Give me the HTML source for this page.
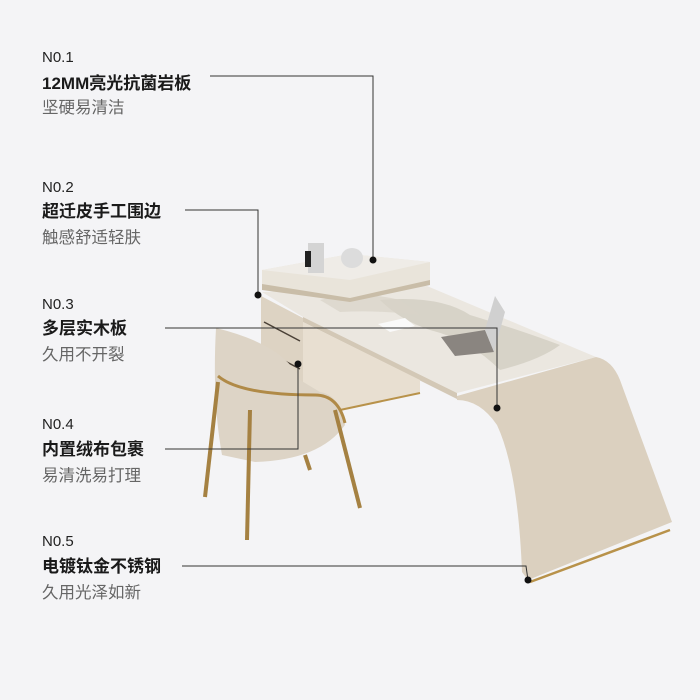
<!DOCTYPE html>
<html><head><meta charset="utf-8"><style>
html,body{margin:0;padding:0;background:#f4f4f6;}
svg{display:block}
.n{font-family:"Liberation Sans","Noto Sans CJK SC",sans-serif;font-size:15px;fill:#222}
.b{font-family:"Liberation Sans","Noto Sans CJK SC",sans-serif;font-size:17px;font-weight:bold;fill:#1a1a1a}
.g{font-family:"Liberation Sans","Noto Sans CJK SC",sans-serif;font-size:16.5px;fill:#666}
</style></head><body>
<svg width="700" height="700" viewBox="0 0 700 700" xmlns="http://www.w3.org/2000/svg">
<rect width="700" height="700" fill="#f4f4f6"/>
<!-- cabinet front -->
<polygon points="261,296 303,318 303,404 261,380" fill="#ddd3c3"/>
<line x1="264" y1="322" x2="300" y2="341" stroke="#4a4036" stroke-width="1.5"/>
<line x1="264" y1="350" x2="300" y2="369" stroke="#4a4036" stroke-width="1.5"/>
<!-- tabletop -->
<polygon points="262,292 427,286 596,357 457,393 303,317" fill="#ebe7e0"/>
<path d="M380,300 Q440,295 470,315 Q520,330 560,345 Q540,360 500,370 Q470,340 430,330 Q400,320 380,300Z" fill="#cfcabe" opacity="0.7"/>
<path d="M320,300 Q360,290 400,300 L420,315 Q380,310 340,312Z" fill="#d8d3c8" opacity="0.7"/>
<polygon points="303,317 457,393 457,399 303,322" fill="#d3c8b6"/>
<!-- cabinet side -->
<polygon points="303,322 420,380 420,393 340,410 303,404" fill="#e8dfd1"/>
<line x1="340" y1="410" x2="420" y2="393" stroke="#b8924a" stroke-width="2"/>
<!-- curved leg -->
<path d="M457,396 L596,357 Q612,360 620,380 L672,522 L528,580 L522,572 Q518,470 497,425 Q480,400 457,400 Z" fill="#dbd0bf"/>
<line x1="530" y1="582" x2="670" y2="530" stroke="#b8924a" stroke-width="2.5"/>
<!-- tray -->
<polygon points="262,270 350,254 430,262 430,282 350,300 262,286" fill="#e9e4da"/>
<polygon points="262,270 350,254 430,262 350,280" fill="#efece7"/>
<polygon points="262,284 350,298 430,280 430,285 350,302 262,290" fill="#c9bda8"/>
<rect x="308" y="243" width="16" height="30" fill="#d4d4d4"/><rect x="305" y="251" width="6" height="16" fill="#222"/>
<ellipse cx="352" cy="258" rx="11" ry="10" fill="#dcdcdc"/>
<!-- laptop & papers -->
<polygon points="441,337 485,330 494,352 455,356" fill="#8a8580"/>
<polygon points="485,330 495,296 505,312 494,352" fill="#d0d0d0"/>
<polygon points="378,324 405,318 415,326 390,332" fill="#fafafa"/>
<!-- chair -->
<path d="M216,328 Q285,345 300,380 L320,392 Q340,395 345,425 Q320,460 255,462 L222,455 Q212,400 216,328Z" fill="#ddd4c6"/>
<path d="M218,376 Q240,395 315,395 Q338,395 345,423" fill="none" stroke="#b08a47" stroke-width="3"/>
<g stroke="#a58142" stroke-width="4" fill="none">
<line x1="218" y1="382" x2="205" y2="497"/>
<line x1="250" y1="410" x2="247" y2="540"/>
<line x1="335" y1="410" x2="360" y2="508"/>
<line x1="305" y1="455" x2="310" y2="470"/>
</g>
<!-- leader lines -->
<g stroke="#333" stroke-width="1" fill="none">
<polyline points="210,76 373,76 373,259"/>
<polyline points="185,210 258,210 258,295"/>
<polyline points="165,328 497,328 497,408"/>
<polyline points="165,449 298,449 298,364"/>
<polyline points="182,566 526,566 528,580"/>
</g>
<g fill="#111">
<circle cx="373" cy="260" r="3.5"/><circle cx="258" cy="295" r="3.5"/><circle cx="497" cy="408" r="3.5"/><circle cx="298" cy="364" r="3.5"/><circle cx="528" cy="580" r="3.5"/>
</g>
<!-- text -->
<text class="n" x="42" y="62">N0.1</text>
<text class="b" x="42" y="89">12MM亮光抗菌岩板</text>
<text class="g" x="42" y="113">坚硬易清洁</text>
<text class="n" x="42" y="192">N0.2</text>
<text class="b" x="42" y="217">超迁皮手工围边</text>
<text class="g" x="42" y="243">触感舒适轻肤</text>
<text class="n" x="42" y="309">N0.3</text>
<text class="b" x="42" y="334">多层实木板</text>
<text class="g" x="42" y="360">久用不开裂</text>
<text class="n" x="42" y="429">N0.4</text>
<text class="b" x="42" y="455">内置绒布包裹</text>
<text class="g" x="42" y="481">易清洗易打理</text>
<text class="n" x="42" y="546">N0.5</text>
<text class="b" x="42" y="572">电镀钛金不锈钢</text>
<text class="g" x="42" y="598">久用光泽如新</text>
</svg>
</body></html>
